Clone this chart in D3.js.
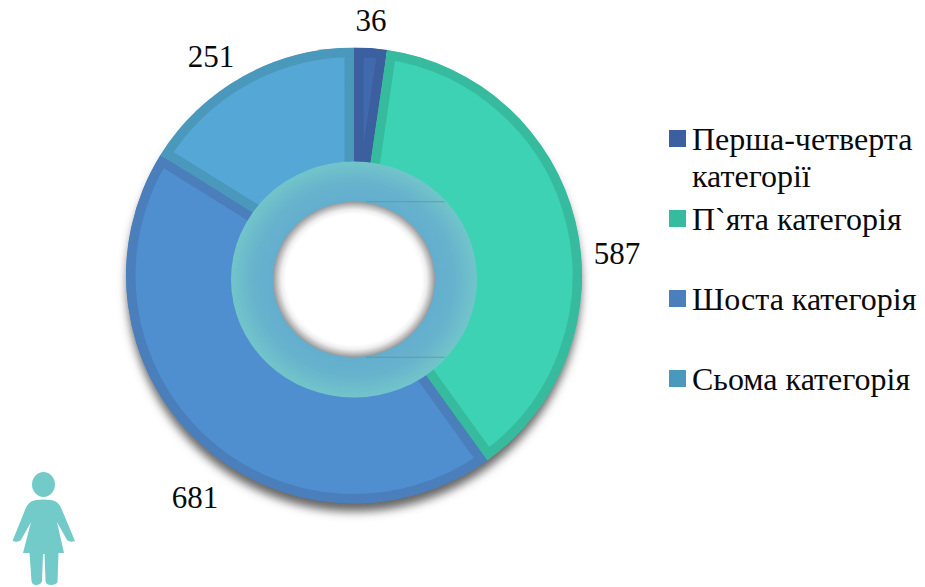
<!DOCTYPE html>
<html><head><meta charset="utf-8">
<script src="https://cdnjs.cloudflare.com/ajax/libs/d3/7.8.5/d3.min.js"></script>
<style>html,body{margin:0;padding:0;background:#fff}svg{display:block}text{font-family:"Liberation Serif",serif;fill:#0a0a0a}</style>
</head><body><svg id="c" width="925" height="587"></svg>
<script>
const categories=["Перша-четверта категорії","П`ята категорія","Шоста категорія","Сьома категорія"];
const legendLines=[["Перша-четверта","категорії"],["П`ята категорія"],["Шоста категорія"],["Сьома категорія"]];
const values=[36,587,681,251];
const fillColors=["#4169ae","#3dd2b4","#4f8fd0","#55a8d6"];
const borderColors=["#3b5f9f","#37bb9f","#4a7fbb","#4b98bd"];

const svg=d3.select("#c"),cx=354,cy=275.5,R=228,border=9.5;
const labelPos=[[371,31],[617,264],[195,508],[211,67]];
const defs=svg.append("defs");
const sh=defs.append("filter").attr("id","sh").attr("x","-10%").attr("y","-10%").attr("width","120%").attr("height","120%");
sh.append("feGaussianBlur").attr("stdDeviation",5);
const rg=defs.append("radialGradient").attr("id","ring").attr("gradientUnits","userSpaceOnUse").attr("cx",0).attr("cy",0).attr("r",123);
[[0.65,"#63aece"],[0.82,"#67b3cd"],[1,"#72c5ca"]].forEach(s=>rg.append("stop").attr("offset",s[0]).attr("stop-color",s[1]));
const hg=defs.append("radialGradient").attr("id","hole").attr("gradientUnits","userSpaceOnUse").attr("cx",0).attr("cy",0).attr("r",81);
[[0.84,"#ffffff"],[0.9,"#eeeeee"],[0.96,"#bdbdbd"],[1,"#999999"]].forEach(s=>hg.append("stop").attr("offset",s[0]).attr("stop-color",s[1]));

const pie=d3.pie().sort(null).value(d=>d);
const arcs=pie(values);
const arc=d3.arc().innerRadius(0).outerRadius(R);
const g=svg.append("g").attr("transform",`translate(${cx},${cy})`);

// drop shadow
g.append("circle").attr("cx",0).attr("cy",9).attr("r",R-1).attr("fill","#666666").attr("filter","url(#sh)");

arcs.forEach((a,i)=>{
  defs.append("clipPath").attr("id","cl"+i).append("path").attr("d",arc(a));
  const s=g.append("g").attr("clip-path",`url(#cl${i})`);
  s.append("path").attr("d",arc(a)).attr("fill",fillColors[i]).attr("stroke",borderColors[i]).attr("stroke-width",border*2).attr("stroke-linejoin","miter");
});

// centre ring, slightly flattened
const ringG=svg.append("g").attr("transform",`translate(${cx},279.5) scale(1,0.96)`);
ringG.append("circle").attr("r",123).attr("fill","url(#ring)");
const hairline=d3.line();
[-81,81].forEach(y=>ringG.append("path").attr("d",hairline([[12,y],[91,y]])).attr("stroke","#5a8f9f").attr("stroke-width",1).attr("opacity",.7).attr("fill","none"));
ringG.append("circle").attr("r",81).attr("fill","url(#hole)");

// value labels
values.forEach((v,i)=>svg.append("text").attr("x",labelPos[i][0]).attr("y",labelPos[i][1]).attr("text-anchor","middle").attr("font-size",31).text(v));

// legend
const ly=d3.scalePoint().domain(categories).range([130,370]);
categories.forEach((c,i)=>{
  const y=ly(c);
  svg.append("rect").attr("x",669).attr("y",y).attr("width",17).attr("height",17).attr("fill",borderColors[i]);
  legendLines[i].forEach((t,j)=>svg.append("text").attr("x",692).attr("y",y+(i==0?20:20)+j*37).attr("font-size",32).text(t));
});

// person icon
const p=svg.append("g").attr("fill","#72cbc8");
p.append("ellipse").attr("cx",43.5).attr("cy",484.5).attr("rx",11.5).attr("ry",12.5);
p.append("path").attr("d","M36 500 Q43.500 499 51 500 Q59 501 62 510 L75 541 Q70 543 67 540 L57 522 L64 553 L58.500 553 L57.500 582 Q56 585 51 585 Q46 585 45.500 581 L44.500 554 L43 554 L42 581 Q41 585 36 585 Q32 585 31.500 581 L29.500 553 L23 553 L31 522 L21 540 Q18 543 12.500 541 L25 510 Q28 501 36 500 Z");
</script></body></html>
